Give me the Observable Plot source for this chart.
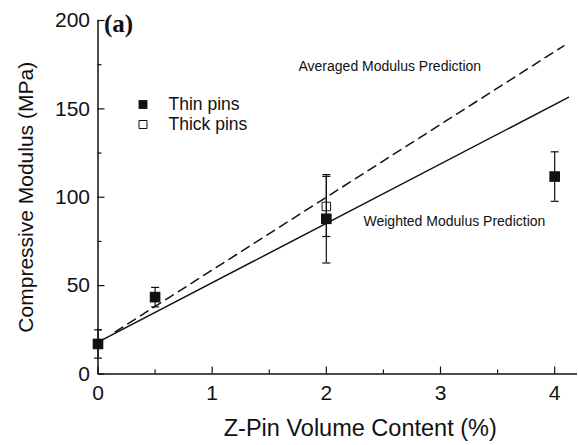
<!DOCTYPE html>
<html>
<head>
<meta charset="utf-8">
<script src="https://cdn.jsdelivr.net/npm/d3@7"></script>
<script src="https://cdn.jsdelivr.net/npm/@observablehq/plot@0.6"></script>
<style>
  html, body { margin: 0; padding: 0; background: #fff; }
  #chart svg { display: block; }
</style>
</head>
<body>
<div id="chart"></div>
<script>
// ---- data ----
const thinX = [0, 0.5, 2, 4];
const thinY = [17, 43.5, 87.8, 111.7];
const thinErr = [8, 5.5, 25, 14];

const thickX = [2];
const thickY = [94.8];
const thickErr = [17];

// prediction lines (end points)
const weightedX = [0, 4.12];
const weightedY = [18, 156.5];
const averagedX = [0.15, 4.08];
const averagedY = [23.8, 185.7];

const xMajor = [0, 1, 2, 3, 4];
const xMinor = [0.5, 1.5, 2.5, 3.5];
const yMajor = [0, 50, 100, 150, 200];
const yMinor = [25, 75, 125, 175];

const xTitle = "Z-Pin Volume Content (%)";
const yTitle = "Compressive Modulus (MPa)";
const panelLabel = "(a)";
const legendLabels = ["Thin pins", "Thick pins"];
const annotations = ["Averaged Modulus Prediction", "Weighted Modulus Prediction"];

// ---- build tables ----
const thin = thinX.map((x, i) => ({x, y: thinY[i], lo: thinY[i] - thinErr[i], hi: thinY[i] + thinErr[i]}));
const thick = thickX.map((x, i) => ({x, y: thickY[i], lo: thickY[i] - thickErr[i], hi: thickY[i] + thickErr[i]}));
const weighted = weightedX.map((x, i) => ({x, y: weightedY[i]}));
const averaged = averagedX.map((x, i) => ({x, y: averagedY[i]}));
const errs = thin.concat(thick);

const W = 578, H = 445;
const mL = 97.5, mR = 1, mT = 20, mB = 71.5;
const plotW = W - mL - mR, plotH = H - mT - mB;

const capSymbol = {
  draw(ctx, size) {
    const r = Math.sqrt(size / Math.PI);
    ctx.moveTo(-r, 0);
    ctx.lineTo(r, 0);
  }
};

const font = "'Liberation Sans', Arial, Helvetica, sans-serif";

const chart = Plot.plot({
  width: W,
  height: H,
  marginLeft: mL,
  marginRight: mR,
  marginTop: mT,
  marginBottom: mB,
  style: {fontFamily: font, fontSize: "20px", background: "#fff", color: "#111", overflow: "visible"},
  x: {domain: [0, 4.2]},
  y: {domain: [0, 200]},
  marks: [
    // prediction lines
    Plot.line(averaged, {x: "x", y: "y", stroke: "#111", strokeWidth: 1.5, strokeDasharray: "9,6"}),
    Plot.line(weighted, {x: "x", y: "y", stroke: "#111", strokeWidth: 1.5}),
    // error bars
    Plot.ruleX(errs, {x: "x", y1: "lo", y2: "hi", stroke: "#111", strokeWidth: 1.2}),
    Plot.dot(errs, {x: "x", y: "lo", symbol: capSymbol, r: 4, stroke: "#111", strokeWidth: 1.2, fill: "none"}),
    Plot.dot(errs, {x: "x", y: "hi", symbol: capSymbol, r: 4, stroke: "#111", strokeWidth: 1.2, fill: "none"}),
    // markers
    Plot.dot(thick, {x: "x", y: "y", symbol: "square", r: 4.8, stroke: "#111", strokeWidth: 1, fill: "none"}),
    Plot.dot(thin, {x: "x", y: "y", symbol: "square", r: 6, fill: "#111", stroke: "none"}),
    // axes lines
    Plot.ruleX([0], {stroke: "#111", strokeWidth: 1.5}),
    Plot.ruleY([0], {stroke: "#111", strokeWidth: 1.5}),
    // inward ticks
    Plot.tickY(yMajor, {y: d => d, insetRight: plotW - 7, stroke: "#111", strokeWidth: 1.2}),
    Plot.tickY(yMinor, {y: d => d, insetRight: plotW - 4, stroke: "#111", strokeWidth: 1.2}),
    Plot.tickX(xMajor, {x: d => d, insetTop: plotH - 7, stroke: "#111", strokeWidth: 1.2}),
    Plot.tickX(xMinor, {x: d => d, insetTop: plotH - 4, stroke: "#111", strokeWidth: 1.2}),
    // tick labels
    Plot.axisY(yMajor, {anchor: "left", tickSize: 0, tickPadding: 8, label: null, fontSize: 21, tickFormat: d => String(d)}),
    Plot.axisX(xMajor, {anchor: "bottom", tickSize: 0, tickPadding: 11, label: null, fontSize: 21, tickFormat: d => String(d)}),
    // axis titles
    Plot.text([xTitle], {text: d => d, frameAnchor: "bottom", dx: 22.5, dy: 54, textAnchor: "middle", lineAnchor: "middle", fontSize: 23.5, fill: "#111"}),
    Plot.text([yTitle], {text: d => d, frameAnchor: "left", dx: -72, rotate: -90, textAnchor: "middle", lineAnchor: "middle", fontSize: 21, fill: "#111"}),
    // panel label
    Plot.text([panelLabel], {text: d => d, frameAnchor: "top-left", dx: 6, dy: 3, textAnchor: "start", lineAnchor: "middle",
      fontFamily: "'Liberation Serif', 'Times New Roman', serif", fontWeight: "bold", fontSize: 25, fill: "#111"}),
    // legend
    Plot.dot([legendLabels[0]], {frameAnchor: "top-left", dx: 45, dy: 84, symbol: "square", r: 5, fill: "#111"}),
    Plot.dot([legendLabels[1]], {frameAnchor: "top-left", dx: 45, dy: 104, symbol: "square", r: 4.5, fill: "none", stroke: "#111", strokeWidth: 1}),
    Plot.text([legendLabels[0]], {text: d => d, frameAnchor: "top-left", dx: 70.5, dy: 84, textAnchor: "start", lineAnchor: "middle", fontSize: 17.5, fill: "#111"}),
    Plot.text([legendLabels[1]], {text: d => d, frameAnchor: "top-left", dx: 70.5, dy: 104, textAnchor: "start", lineAnchor: "middle", fontSize: 17.5, fill: "#111"}),
    // annotations
    Plot.text([annotations[0]], {text: d => d, frameAnchor: "top-left", dx: 200.5, dy: 46, textAnchor: "start", lineAnchor: "middle", fontSize: 14, fill: "#111"}),
    Plot.text([annotations[1]], {text: d => d, frameAnchor: "top-left", dx: 265.5, dy: 201, textAnchor: "start", lineAnchor: "middle", fontSize: 14, fill: "#111"})
  ]
});

document.getElementById("chart").appendChild(chart);
</script>
</body>
</html>
